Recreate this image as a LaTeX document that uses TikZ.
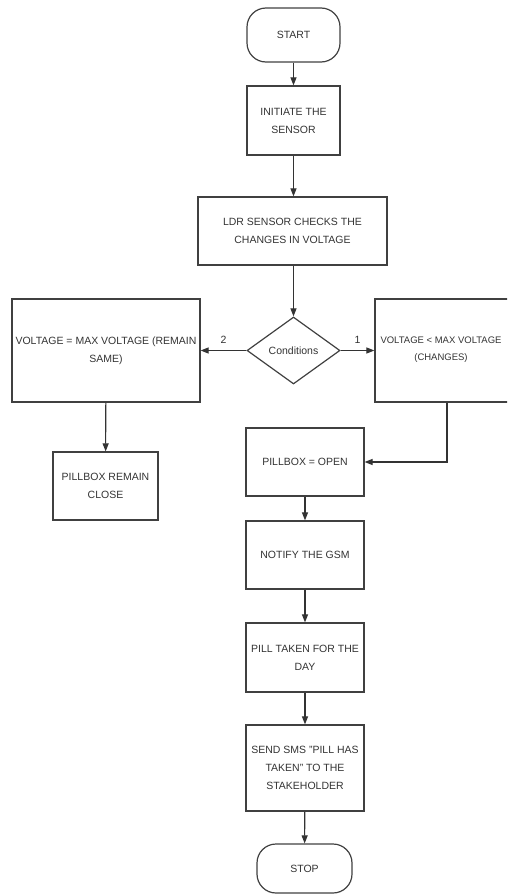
\documentclass[tikz,border=0pt]{standalone}
\usepackage{fontspec}
\setmainfont{Liberation Sans}
\usetikzlibrary{shapes.geometric,arrows.meta}
\begin{document}
\begin{tikzpicture}[x=1pt,y=-1pt,
  every node/.style={font=\fontsize{10.5}{18}\selectfont, text=black!80, align=center, inner sep=0pt},
  box/.style={draw=black!75, line width=1.2pt, rectangle},
  term/.style={draw=black!75, line width=1.2pt, rectangle, rounded corners=19pt},
  cond/.style={draw=black!75, line width=1.2pt, diamond, aspect=1.39},
  arr/.style={draw=black!80, line width=1.1pt, -{Triangle[length=8pt,width=6pt]}},
  lbl/.style={font=\fontsize{10.5}{12}\selectfont}
]
\useasboundingbox (0,0) rectangle (507,894);
\begin{scope}
\clip (0,0) rectangle (507,894);
\node[term, minimum width=93pt, minimum height=54pt] (start) at (293.5,35) {START};
\node[box, minimum width=93pt, minimum height=69pt] (init) at (293.5,120.5) {INITIATE THE\\SENSOR};
\node[box, minimum width=189pt, minimum height=68pt] (ldr) at (292.5,231) {LDR SENSOR CHECKS THE\\CHANGES IN VOLTAGE};
\node[cond, minimum width=93pt, minimum height=67pt] (cond) at (293.5,350.5) {Conditions};
\node[box, minimum width=188pt, minimum height=103pt] (eq) at (106,350.5) {VOLTAGE = MAX VOLTAGE (REMAIN\\SAME)};
\node[box, minimum width=144pt, minimum height=103pt] (lt) at (447,350.5) {};
\node[font=\fontsize{9.5}{17}\selectfont] (lttext) at (441,349.5) {VOLTAGE < MAX VOLTAGE\\(CHANGES)};
\node[box, minimum width=105pt, minimum height=68pt] (close) at (105.5,486) {PILLBOX REMAIN\\CLOSE};
\node[box, minimum width=118pt, minimum height=68pt] (open) at (305,462) {PILLBOX = OPEN};
\node[box, minimum width=118pt, minimum height=68pt] (gsm) at (305,555) {NOTIFY THE GSM};
\node[box, minimum width=118pt, minimum height=69pt] (taken) at (305,657.5) {PILL TAKEN FOR THE\\DAY};
\node[box, minimum width=118pt, minimum height=86pt] (sms) at (305,768) {SEND SMS "PILL HAS\\TAKEN" TO THE\\STAKEHOLDER};
\node[term, minimum width=95pt, minimum height=49pt] (stop) at (304.5,868.5) {STOP};

\draw[arr] (start) -- (init);
\draw[arr] (init) -- (ldr.north -| init);
\draw[arr] (ldr.south -| cond) -- (cond);
\draw[arr] (cond.west) -- node[lbl, above=6pt] (l2) {2} (eq.east);
\draw[arr] (cond.east) -- node[lbl, above=6pt] (l1) {1} (lt.west);
\draw[arr] (eq) -- (close);
\draw[arr] (lt.south) |- (open.east);
\draw[arr] (open) -- (gsm);
\draw[arr] (gsm) -- (taken);
\draw[arr] (taken) -- (sms);
\draw[arr] (sms) -- (stop);
\end{scope}
\end{tikzpicture}
\end{document}
